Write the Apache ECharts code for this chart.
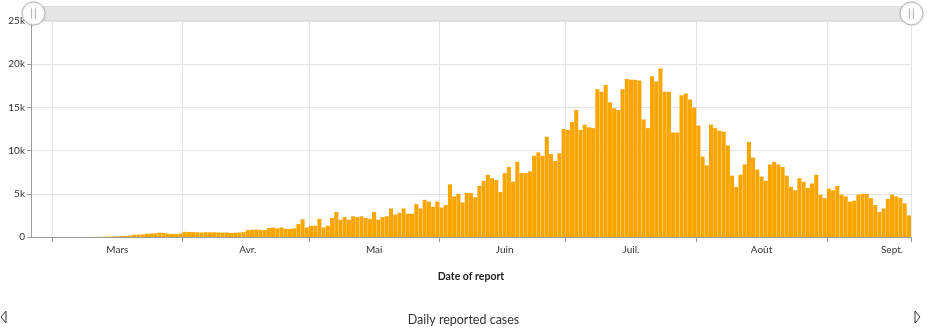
<!DOCTYPE html>
<html>
<head>
<meta charset="utf-8">
<script src="https://cdn.jsdelivr.net/npm/echarts@6/dist/echarts.min.js"></script>
<style>
html,body{margin:0;padding:0;background:#fff;}
#chart{width:927px;height:331px;}
</style>
</head>
<body>
<div id="chart"></div>
<script>
// ---- data ----
const startDate = '2020-02-24';
const dayCount = 209;
const monthLabels = ['Mars', 'Avr.', 'Mai', 'Juin', 'Juil.', 'Août', 'Sept.'];
const yTickLabels = ['0', '5k', '10k', '15k', '20k', '25k'];
const cases = [
  0,0,0,0,0,0,0,0,0,0,0,0,
  5,8,10,15,20,30,40,60,70,
  110,130,160,260,270,300,380,400,420,500,480,380,350,360,400,
  600,580,560,540,520,560,540,550,520,500,520,480,500,520,560,
  820,850,860,840,800,1050,1080,1000,1100,950,930,1000,
  1500,2050,1100,1300,1300,2100,1100,1300,2200,2900,2000,2300,2000,2400,2300,2400,2200,2100,2900,2000,2300,2400,3300,2600,2800,3300,
  2700,2700,3800,3300,4300,4100,3500,4100,3400,3700,6100,4700,5000,4000,5100,5100,4600,5900,6500,7200,
  6800,6600,5200,7400,8100,6400,8700,7400,7400,7600,9400,9800,9400,11600,9600,8800,9700,12500,12400,13300,
  14700,12400,13000,12700,12600,17100,
  16800,17600,15600,14900,14700,17100,18300,18200,18200,18100,13600,12600,18600,18000,19500,16800,16800,12100,12100,16400,
  16600,15900,15000,12900,9300,8300,13000,12600,12300,12200,10600,7100,5800,7200,8400,11000,9200,7800,7000,6500,
  8400,8700,8400,8100,7100,5800,5400,6800,
  6400,5700,6200,7200,4900,4500,5600,5400,5900,4900,4700,4100,4200,4900,5000,5000,4500,3700,2900,3300,
  4400,4900,4700,4500,3900,2500
];

// build category dates
const dates = [];
(function(){
  const d0 = new Date(startDate + 'T00:00:00Z');
  for (let i = 0; i < dayCount; i++) {
    const d = new Date(d0.getTime() + i * 86400000);
    dates.push(d.toISOString().slice(0, 10));
  }
})();
const dayOf = v => parseInt(v.slice(8, 10), 10);
const monthOf = v => parseInt(v.slice(5, 7), 10);
// boundary before the first day of each month
const isMonthEdge = i => i + 1 < dates.length && dayOf(dates[i + 1]) === 1;

const FONT = 'Lato, "Open Sans", sans-serif';
const chart = echarts.init(document.getElementById('chart'), null, {renderer: 'canvas'});
chart.setOption({
  animation: false,
  textStyle: {fontFamily: FONT},
  title: {
    text: 'Daily reported cases',
    left: 'center',
    top: 308,
    textStyle: {fontFamily: FONT, fontSize: 12.5, fontWeight: 'normal', color: '#333'}
  },
  grid: {left: 31, right: 16, top: 21, bottom: 94},
  dataZoom: [{
    type: 'slider',
    xAxisIndex: 0,
    start: 0, end: 100,
    left: 31, right: 16,
    top: 6, height: 15,
    showDetail: false,
    showDataShadow: false,
    brushSelect: false,
    moveHandleSize: 0,
    backgroundColor: '#efefef',
    fillerColor: '#e6e6e6',
    borderColor: '#dcdcdc',
    handleIcon: 'path://M10,0 A10,10 0 1,1 10,20 A10,10 0 1,1 10,0 Z M8.3,5.5 L8.3,14.5 M11.7,5.5 L11.7,14.5',
    handleSize: 23,
    handleStyle: {color: '#fff', borderColor: '#b8b8b8', borderWidth: 1, shadowBlur: 2, shadowColor: 'rgba(0,0,0,0.15)'},
    emphasis: {handleStyle: {color: '#fff', borderColor: '#b8b8b8'}}
  }],
  xAxis: {
    type: 'category',
    data: dates,
    name: 'Date of report',
    nameLocation: 'middle',
    nameGap: 34,
    nameTextStyle: {fontFamily: FONT, fontSize: 10.5, fontWeight: 'bold', color: '#222'},
    axisLine: {lineStyle: {color: '#9a9a9a'}},
    axisTick: {
      show: true, length: 5,
      interval: (i) => isMonthEdge(i),
      lineStyle: {color: '#9a9a9a'}
    },
    splitLine: {
      show: true,
      interval: (i) => isMonthEdge(i),
      lineStyle: {color: '#e4e4e4'}
    },
    axisLabel: {
      interval: (i, v) => dayOf(v) === 15,
      formatter: v => monthLabels[monthOf(v) - 3] || '',
      fontFamily: FONT, fontSize: 10, color: '#333', margin: 8
    }
  },
  yAxis: {
    type: 'value',
    min: 0, max: 25000, interval: 5000,
    axisLine: {show: true, lineStyle: {color: '#9a9a9a'}},
    axisTick: {show: true, length: 4, lineStyle: {color: '#9a9a9a'}},
    splitLine: {lineStyle: {color: '#e4e4e4'}},
    axisLabel: {
      formatter: v => yTickLabels[Math.round(v / 5000)],
      fontFamily: FONT, fontSize: 10, color: '#333', margin: 6
    }
  },
  series: [{
    type: 'bar',
    data: cases,
    barCategoryGap: '4%',
    itemStyle: {color: '#f9a602'}
  }],
  graphic: [
    {type: 'polygon', shape: {points: [[6, 311], [6, 323], [1, 317]]},
     style: {fill: '#fff', stroke: '#333', lineWidth: 1}},
    {type: 'polygon', shape: {points: [[915, 311], [915, 323], [920, 317]]},
     style: {fill: '#fff', stroke: '#333', lineWidth: 1}}
  ]
});
</script>
</body>
</html>
